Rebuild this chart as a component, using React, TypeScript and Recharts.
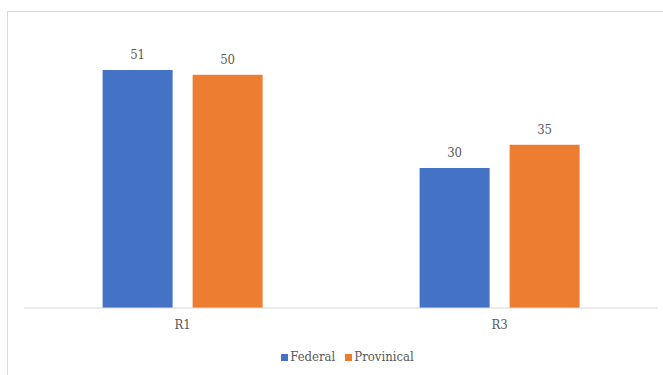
import { BarChart, Bar, XAxis, YAxis, LabelList } from 'recharts';

const categories = ['R1', 'R3'];
const federal = [51, 30];
const provincial = [50, 35];

const seriesNames = ['Federal', 'Provinical'];
const seriesColors = ['#4472c4', '#ed7d31'];

const data = categories.map((name, i) => ({
  name,
  federal: federal[i],
  provincial: provincial[i],
}));

const font = '"DejaVu Serif Condensed", "DejaVu Serif"';
const textColor = '#595959';
const labelStyle = { fill: textColor, fontSize: 13, fontFamily: font };

export default function App() {
  return (
    <div
      style={{
        position: 'absolute',
        left: 0,
        top: 0,
        width: 663,
        height: 375,
        background: '#fff',
        overflow: 'hidden',
        fontFamily: font,
      }}
    >
      <div
        style={{
          position: 'absolute',
          left: 7,
          top: 11,
          width: 680,
          height: 400,
          border: '1px solid #d9d9d9',
          boxSizing: 'border-box',
        }}
      />
      <div style={{ position: 'absolute', left: 0, top: 0 }}>
        <BarChart
          width={663}
          height={375}
          data={data}
          margin={{ top: 28, right: 5, bottom: 37, left: 24 }}
          barCategoryGap='24.8%'
          barGap={20}
          style={{ fontFamily: font }}
        >
          <XAxis
            dataKey='name'
            height={30}
            stroke='#d9d9d9'
            tickLine={false}
            tick={labelStyle}
            tickMargin={6}
          />
          <YAxis hide domain={[0, 60]} />
          <Bar dataKey='federal' fill={seriesColors[0]} isAnimationActive={false}>
            <LabelList dataKey='federal' position='top' offset={11} style={labelStyle} />
          </Bar>
          <Bar dataKey='provincial' fill={seriesColors[1]} isAnimationActive={false}>
            <LabelList dataKey='provincial' position='top' offset={11} style={labelStyle} />
          </Bar>
        </BarChart>
      </div>
      <div
        style={{
          position: 'absolute',
          top: 349,
          left: 16,
          width: 663,
          display: 'flex',
          justifyContent: 'center',
          gap: 10,
          fontSize: 13,
          color: textColor,
          lineHeight: '16px',
        }}
      >
        {seriesNames.map((s, i) => (
          <div key={s} style={{ display: 'flex', alignItems: 'center' }}>
            <span
              style={{
                display: 'inline-block',
                width: 7,
                height: 7,
                background: seriesColors[i],
                marginRight: 2,
              }}
            />
            {s}
          </div>
        ))}
      </div>
    </div>
  );
}
